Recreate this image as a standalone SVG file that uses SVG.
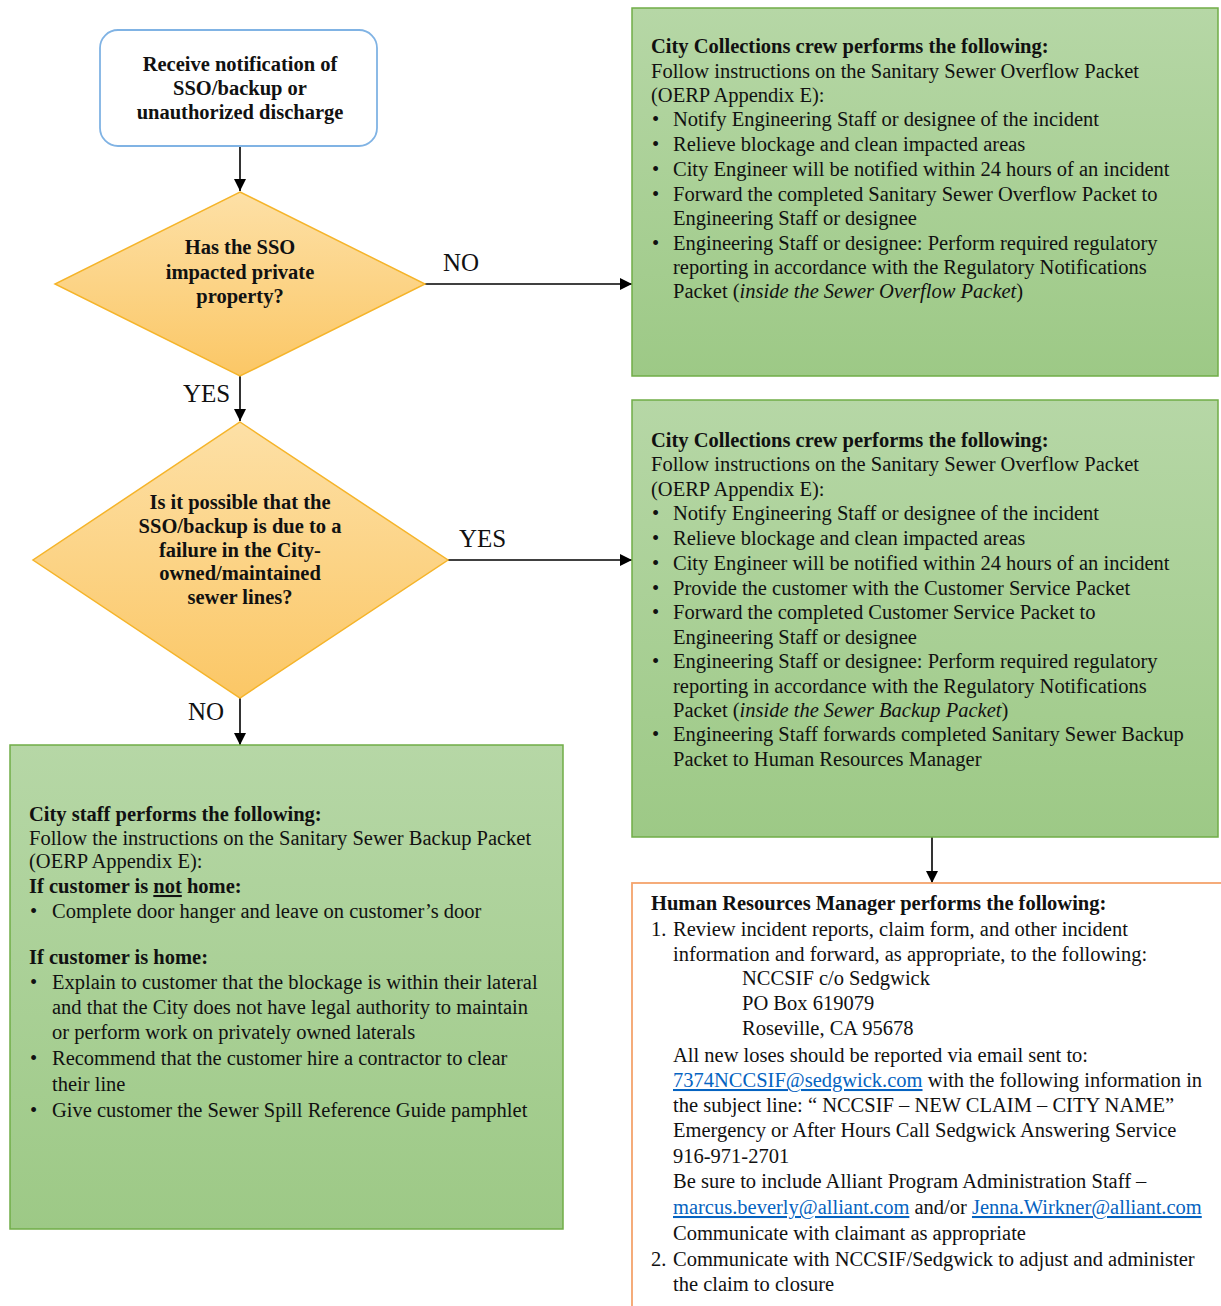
<svg xmlns="http://www.w3.org/2000/svg" width="1221" height="1306" viewBox="0 0 1221 1306">
<defs>
<linearGradient id="gGreen" x1="0" y1="0" x2="0" y2="1">
<stop offset="0" stop-color="#b6d7a6"/>
<stop offset="1" stop-color="#9dc986"/>
</linearGradient>
<linearGradient id="gOrange" x1="0" y1="0" x2="0" y2="1">
<stop offset="0" stop-color="#fde0a6"/>
<stop offset="1" stop-color="#fbc766"/>
</linearGradient>
<marker id="arr" markerWidth="12" markerHeight="12" viewBox="0 0 12 12" refX="12" refY="6" orient="auto" markerUnits="userSpaceOnUse">
<path d="M0,0 L12,6 L0,12 Z" fill="#000"/>
</marker>
<style>
text{font-family:"Liberation Serif","Times New Roman",serif;font-size:20.5px;fill:#111;}
.b{font-weight:bold;}
.c{text-anchor:middle;}
.lbl{font-size:25px;}
.i{font-style:italic;}
.u{text-decoration:underline;}
.lnk{fill:#0563c1;text-decoration:underline;}
.blt{font-size:17px;}
.green{fill:url(#gGreen);stroke:#70ad47;stroke-width:1.5;}
.dia{fill:url(#gOrange);stroke:#f5b42a;stroke-width:1.5;}
.conn{stroke:#000;stroke-width:1.6;fill:none;}
</style>
</defs>
<rect width="1221" height="1306" fill="#fff"/>

<g id="connectors">
<line class="conn" x1="240" y1="146" x2="240" y2="191" marker-end="url(#arr)"/>
<line class="conn" x1="425" y1="284" x2="632" y2="284" marker-end="url(#arr)"/>
<line class="conn" x1="240" y1="376" x2="240" y2="421" marker-end="url(#arr)"/>
<line class="conn" x1="448" y1="560" x2="632" y2="560" marker-end="url(#arr)"/>
<line class="conn" x1="240" y1="698" x2="240" y2="745" marker-end="url(#arr)"/>
<line class="conn" x1="932" y1="837" x2="932" y2="883" marker-end="url(#arr)"/>
<text class="lbl" x="443" y="271">NO</text>
<text class="lbl" x="183" y="402">YES</text>
<text class="lbl" x="459" y="547">YES</text>
<text class="lbl" x="188" y="720">NO</text>
</g>

<g id="start">
<rect x="100" y="30" width="277" height="116" rx="18" ry="18" fill="#fff" stroke="#80b3e4" stroke-width="1.8"/>
<text class="b c" x="240" y="71">Receive notification of</text>
<text class="b c" x="240" y="95">SSO/backup or</text>
<text class="b c" x="240" y="119">unauthorized discharge</text>
</g>

<g id="decision1">
<polygon class="dia" points="240,192 425,284 240,376 55,284"/>
<text class="b c" x="240" y="254">Has the SSO</text>
<text class="b c" x="240" y="279">impacted private</text>
<text class="b c" x="240" y="303">property?</text>
</g>

<g id="decision2">
<polygon class="dia" points="240,422 448,560 240,698 33,560"/>
<text class="b c" x="240" y="509">Is it possible that the</text>
<text class="b c" x="240" y="533">SSO/backup is due to a</text>
<text class="b c" x="240" y="557">failure in the City-</text>
<text class="b c" x="240" y="580">owned/maintained</text>
<text class="b c" x="240" y="604">sewer lines?</text>
</g>

<g id="overflow-box">
<rect class="green" x="632" y="8" width="586" height="368"/>
<text class="b" x="651" y="53">City Collections crew performs the following:</text>
<text x="651" y="78">Follow instructions on the Sanitary Sewer Overflow Packet</text>
<text x="651" y="102">(OERP Appendix E):</text>
<text x="652" y="126">•</text><text x="673" y="126">Notify Engineering Staff or designee of the incident</text>
<text x="652" y="151">•</text><text x="673" y="151">Relieve blockage and clean impacted areas</text>
<text x="652" y="176">•</text><text x="673" y="176">City Engineer will be notified within 24 hours of an incident</text>
<text x="652" y="201">•</text><text x="673" y="201">Forward the completed Sanitary Sewer Overflow Packet to</text>
<text x="673" y="225">Engineering Staff or designee</text>
<text x="652" y="250">•</text><text x="673" y="250">Engineering Staff or designee: Perform required regulatory</text>
<text x="673" y="274">reporting in accordance with the Regulatory Notifications</text>
<text x="673" y="298">Packet (<tspan class="i">inside the Sewer Overflow Packet</tspan>)</text>
</g>

<g id="backup-box">
<rect class="green" x="632" y="400" width="586" height="437"/>
<text class="b" x="651" y="447">City Collections crew performs the following:</text>
<text x="651" y="471">Follow instructions on the Sanitary Sewer Overflow Packet</text>
<text x="651" y="496">(OERP Appendix E):</text>
<text x="652" y="520">•</text><text x="673" y="520">Notify Engineering Staff or designee of the incident</text>
<text x="652" y="545">•</text><text x="673" y="545">Relieve blockage and clean impacted areas</text>
<text x="652" y="570">•</text><text x="673" y="570">City Engineer will be notified within 24 hours of an incident</text>
<text x="652" y="595">•</text><text x="673" y="595">Provide the customer with the Customer Service Packet</text>
<text x="652" y="619">•</text><text x="673" y="619">Forward the completed Customer Service Packet to</text>
<text x="673" y="644">Engineering Staff or designee</text>
<text x="652" y="668">•</text><text x="673" y="668">Engineering Staff or designee: Perform required regulatory</text>
<text x="673" y="693">reporting in accordance with the Regulatory Notifications</text>
<text x="673" y="717">Packet (<tspan class="i">inside the Sewer Backup Packet</tspan>)</text>
<text x="652" y="741">•</text><text x="673" y="741">Engineering Staff forwards completed Sanitary Sewer Backup</text>
<text x="673" y="766">Packet to Human Resources Manager</text>
</g>

<g id="city-staff-box">
<rect class="green" x="10" y="745" width="553" height="484"/>
<text class="b" x="29" y="821">City staff performs the following:</text>
<text x="29" y="845">Follow the instructions on the Sanitary Sewer Backup Packet</text>
<text x="29" y="868">(OERP Appendix E):</text>
<text class="b" x="29" y="893">If customer is <tspan class="u">not</tspan> home:</text>
<text x="30" y="918">•</text><text x="52" y="918">Complete door hanger and leave on customer’s door</text>
<text class="b" x="29" y="964">If customer is home:</text>
<text x="30" y="989">•</text><text x="52" y="989">Explain to customer that the blockage is within their lateral</text>
<text x="52" y="1014">and that the City does not have legal authority to maintain</text>
<text x="52" y="1039">or perform work on privately owned laterals</text>
<text x="30" y="1065">•</text><text x="52" y="1065">Recommend that the customer hire a contractor to clear</text>
<text x="52" y="1091">their line</text>
<text x="30" y="1117">•</text><text x="52" y="1117">Give customer the Sewer Spill Reference Guide pamphlet</text>
</g>

<g id="hr-box">
<rect x="632" y="883" width="600" height="440" fill="#fff" stroke="#f4a36c" stroke-width="1.8"/>
<text class="b" x="651" y="910">Human Resources Manager performs the following:</text>
<text x="651" y="936">1.</text><text x="673" y="936">Review incident reports, claim form, and other incident</text>
<text x="673" y="961">information and forward, as appropriate, to the following:</text>
<text x="742" y="985">NCCSIF c/o Sedgwick</text>
<text x="742" y="1010">PO Box 619079</text>
<text x="742" y="1035">Roseville, CA 95678</text>
<text x="673" y="1062">All new loses should be reported via email sent to:</text>
<text x="673" y="1087"><tspan class="lnk">7374NCCSIF@sedgwick.com</tspan> with the following information in</text>
<text x="673" y="1112">the subject line: “ NCCSIF – NEW CLAIM – CITY NAME”</text>
<text x="673" y="1137">Emergency or After Hours Call Sedgwick Answering Service</text>
<text x="673" y="1163">916-971-2701</text>
<text x="673" y="1188">Be sure to include Alliant Program Administration Staff –</text>
<text x="673" y="1214"><tspan class="lnk">marcus.beverly@alliant.com</tspan> and/or <tspan class="lnk">Jenna.Wirkner@alliant.com</tspan></text>
<text x="673" y="1240">Communicate with claimant as appropriate</text>
<text x="651" y="1266">2.</text><text x="673" y="1266">Communicate with NCCSIF/Sedgwick to adjust and administer</text>
<text x="673" y="1291">the claim to closure</text>
</g>
</svg>
